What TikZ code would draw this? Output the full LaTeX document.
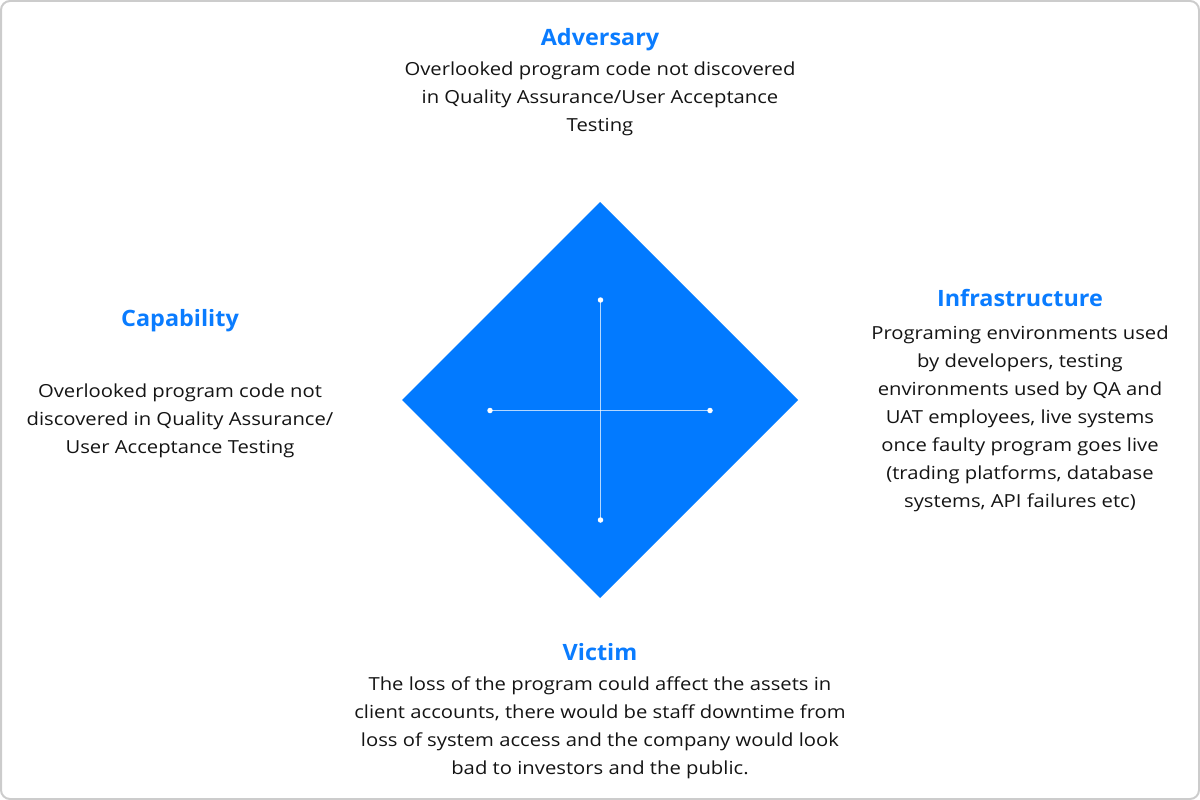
\documentclass[tikz,border=0pt]{standalone}
\usepackage{fontspec}
\setmainfont{Open Sans}
\newfontfamily\bodyfont[FakeStretch=1.125]{Open Sans}
\newfontfamily\headfont[FakeStretch=1.04]{Open Sans}
\begin{document}
\begin{tikzpicture}[x=1pt,y=-1pt,
  headline/.style={font=\headfont\fontsize{22.5}{26}\selectfont\bfseries, text=accent, anchor=base, inner sep=0pt},
  bodytext/.style={font=\bodyfont\fontsize{18}{28}\selectfont, text=ink, align=center, anchor=base, inner sep=0pt},
  crossline/.style={draw=white, draw opacity=0.7, line width=1.6pt},
  crossdot/.style={circle, fill=white, inner sep=0pt, minimum size=5.5pt}]
\definecolor{accent}{RGB}{10,124,255}
\definecolor{diamondblue}{RGB}{2,122,255}
\definecolor{ink}{RGB}{20,20,20}
\definecolor{frame}{RGB}{204,204,204}
% canvas and outer frame
\useasboundingbox (0,0) rectangle (1200,800);
\draw[frame, line width=2pt, rounded corners=9pt] (1,1) rectangle (1199,799);
% central diamond
\fill[diamondblue] (600,202) -- (798,400) -- (600,598) -- (402,400) -- cycle;
% cross with end points
\coordinate (ctop) at (600.5,300);
\coordinate (cbot) at (600.5,520);
\coordinate (cleft) at (490,410.5);
\coordinate (cright) at (710,410.5);
\draw[crossline] (ctop) -- (cbot);
\draw[crossline] (cleft) -- (cright);
\foreach \p in {ctop,cbot,cleft,cright} \node[crossdot] (dot-\p) at (\p) {};
% adversary (body nodes are placed by the baseline of their last line)
\node[headline] (advh) at (600,46) {Adversary};
\node[bodytext] (advb) at (600,131.5) {Overlooked program code not discovered\\in Quality Assurance/User Acceptance\\Testing};
% capability
\node[headline] (caph) at (180,326) {Capability};
\node[bodytext] (capb) at (180,453.5) {Overlooked program code not\\discovered in Quality Assurance/\\User Acceptance Testing};
% infrastructure
\node[headline] (infh) at (1020,306) {Infrastructure};
\node[bodytext] (infb) at (1020,507.5) {Programing environments used\\by developers, testing\\environments used by QA and\\UAT employees, live systems\\once faulty program goes live\\(trading platforms, database\\systems, API failures etc)};
% victim
\node[headline] (vich) at (600,660) {Victim};
\node[bodytext] (vicb) at (600,774.5) {The loss of the program could affect the assets in\\client accounts, there would be staff downtime from\\loss of system access and the company would look\\bad to investors and the public.};
\end{tikzpicture}
\end{document}
